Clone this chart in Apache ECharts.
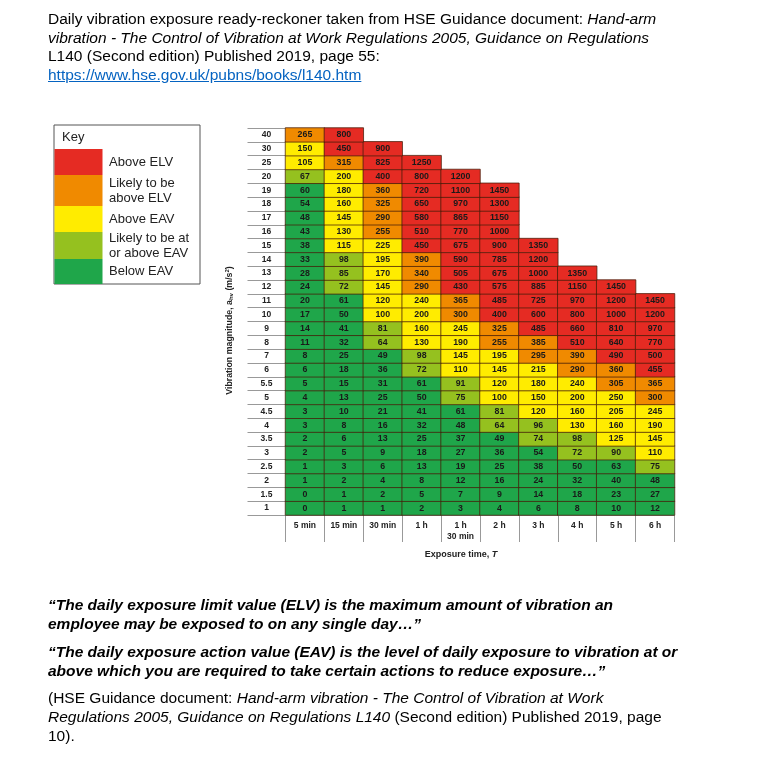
<!DOCTYPE html>
<html><head><meta charset="utf-8">
<script src="https://cdn.jsdelivr.net/npm/echarts@6/dist/echarts.min.js"></script>
<style>
html,body{margin:0;padding:0;background:#fff;}
#chart{position:absolute;left:0;top:0;width:772px;height:758px;}
.txt{position:absolute;left:48px;font-family:"Liberation Sans",Arial,sans-serif;font-size:15.5px;line-height:18.5px;color:#000;white-space:nowrap;}
.q{font-weight:bold;font-style:italic;line-height:19px;}
.c{line-height:19px;}
a{color:#0563c1;text-decoration:underline;}
</style></head>
<body>
<div id="chart"></div>
<div class="txt" style="top:10px;">Daily vibration exposure ready-reckoner taken from HSE Guidance document: <i>Hand-arm</i><br><i>vibration - The Control of Vibration at Work Regulations 2005, Guidance on Regulations</i><br>L140 (Second edition) Published 2019, page 55:<br><a>https://www.hse.gov.uk/pubns/books/l140.htm</a></div>
<div class="txt q" style="top:595px;">“The daily exposure limit value (ELV) is the maximum amount of vibration an<br>employee may be exposed to on any single day…”</div>
<div class="txt q" style="top:642px;">“The daily exposure action value (EAV) is the level of daily exposure to vibration at or<br>above which you are required to take certain actions to reduce exposure…”</div>
<div class="txt c" style="top:688px;">(HSE Guidance document: <i>Hand-arm vibration - The Control of Vibration at Work</i><br><i>Regulations 2005, Guidance on Regulations L140</i> (Second edition) Published 2019, page<br>10).</div>
<script>
// Vibration magnitude rows (bottom to top)
const magnitudes = ['1','1.5','2','2.5','3','3.5','4','4.5','5','5.5','6','7','8','9','10','11','12','13','14','15','16','17','18','19','20','25','30','40'];
// Exposure time columns
const exposureTimes = ['5 min','15 min','30 min','1 h','1 h\n30 min','2 h','3 h','4 h','5 h','6 h'];
// Exposure points per row (same order as magnitudes)
const points = [
  [0,1,1,2,3,4,6,8,10,12],
  [0,1,2,5,7,9,14,18,23,27],
  [1,2,4,8,12,16,24,32,40,48],
  [1,3,6,13,19,25,38,50,63,75],
  [2,5,9,18,27,36,54,72,90,110],
  [2,6,13,25,37,49,74,98,125,145],
  [3,8,16,32,48,64,96,130,160,190],
  [3,10,21,41,61,81,120,160,205,245],
  [4,13,25,50,75,100,150,200,250,300],
  [5,15,31,61,91,120,180,240,305,365],
  [6,18,36,72,110,145,215,290,360,455],
  [8,25,49,98,145,195,295,390,490,500],
  [11,32,64,130,190,255,385,510,640,770],
  [14,41,81,160,245,325,485,660,810,970],
  [17,50,100,200,300,400,600,800,1000,1200],
  [20,61,120,240,365,485,725,970,1200,1450],
  [24,72,145,290,430,575,885,1150,1450],
  [28,85,170,340,505,675,1000,1350],
  [33,98,195,390,590,785,1200],
  [38,115,225,450,675,900,1350],
  [43,130,255,510,770,1000],
  [48,145,290,580,865,1150],
  [54,160,325,650,970,1300],
  [60,180,360,720,1100,1450],
  [67,200,400,800,1200],
  [105,315,825,1250],
  [150,450,900],
  [265,800]
];
// Zone per cell: G below EAV, L likely at/above EAV, Y above EAV, O likely above ELV, R above ELV
const zones = [
  'GGGGGGGGGG',
  'GGGGGGGGGG',
  'GGGGGGGGGG',
  'GGGGGGGGGL',
  'GGGGGGGLLY',
  'GGGGGGLLYY',
  'GGGGGLLYYY',
  'GGGGGLYYYY',
  'GGGGLYYYYO',
  'GGGGLYYYOO',
  'GGGLYYYOOR',
  'GGGLYYOORR',
  'GGLYYOORRR',
  'GGLYYORRRR',
  'GGYYORRRRR',
  'GGYYORRRRR',
  'GLYORRRRR',
  'GLYORRRR',
  'GLYORRR',
  'GYYRRRR',
  'GYORRR',
  'GYORRR',
  'GYORRR',
  'GYORRR',
  'LYRRR',
  'YORR',
  'YRR',
  'OR'
];
const zoneCodes = ['R','O','Y','L','G'];
const zoneNames = ['Above ELV','Likely to be\nabove ELV','Above EAV','Likely to be at\nor above EAV','Below EAV'];
const zoneColors = ['#e52b23','#f08a00','#ffec00','#95c11f','#1fa64a'];

const data = [];
points.forEach((row, y) => {
  row.forEach((v, x) => {
    data.push([x, y, v, zoneCodes.indexOf(zones[y][x])]);
  });
});

const FONT = '"Liberation Sans", Arial, sans-serif';
const gridL = 285.5, gridT = 128, gridW = 389, gridH = 387;

// Key (legend) graphics
const keyX = 54, keyY = 125, keyW = 146;
const keyBounds = [149, 175, 206, 232, 259, 284];
const keyEls = [
  {type:'rect', shape:{x:keyX, y:keyY, width:keyW, height:keyBounds[5]-keyY}, style:{fill:'#fff', stroke:'#555', lineWidth:1}},
  {type:'text', x:keyX+8, y:keyY+6, style:{text:'Key', font:'13px '+FONT, fill:'#222'}}
];
zoneNames.forEach((n, i) => {
  const y0 = keyBounds[i], y1 = keyBounds[i+1];
  keyEls.push({type:'rect', shape:{x:keyX+0.5, y:y0, width:48, height:y1-y0}, style:{fill:zoneColors[i]}});
  keyEls.push({type:'text', x:keyX+55, y:(y0+y1)/2, style:{text:n, font:'13px '+FONT, fill:'#222', verticalAlign:'middle', lineHeight:15}});
});

const chart = echarts.init(document.getElementById('chart'), null, {renderer:'canvas'});
chart.setOption({
  animation:false,
  backgroundColor:'transparent',
  grid:{left:gridL, top:gridT, width:gridW, height:gridH},
  xAxis:{
    type:'category', data:exposureTimes, position:'bottom',
    axisLine:{show:true, lineStyle:{color:'#999', width:1}},
    axisTick:{show:true, length:27, lineStyle:{color:'#999', width:1}},
    axisLabel:{margin:5, fontSize:8.5, fontWeight:'bold', fontFamily:FONT, color:'#222', lineHeight:11, verticalAlign:'top'},
    splitLine:{show:false},
    name:'Exposure time, {i|T}', nameLocation:'middle', nameGap:35,
    nameTextStyle:{fontSize:9, fontWeight:'bold', fontFamily:FONT, color:'#222', padding:[0,38,0,0],
      rich:{i:{fontSize:9, fontWeight:'bold', fontStyle:'italic', fontFamily:FONT, color:'#222'}}}
  },
  yAxis:{
    type:'category', data:magnitudes,
    axisLine:{show:false},
    axisTick:{show:true, length:38, lineStyle:{color:'#999', width:1}},
    axisLabel:{margin:19, align:'center', fontSize:8.5, fontWeight:'bold', fontFamily:FONT, color:'#222'},
    splitLine:{show:false},
    name:'Vibration magnitude, a{s|hv} (m/s{p|2})', nameLocation:'middle', nameGap:51, nameRotate:90,
    nameTextStyle:{fontSize:8.8, fontWeight:'bold', fontFamily:FONT, color:'#222', padding:[0,18,0,0],
      rich:{s:{fontSize:6, fontWeight:'bold', fontFamily:FONT, color:'#222', padding:[4,0,0,0]},
            p:{fontSize:6, fontWeight:'bold', fontFamily:FONT, color:'#222', padding:[0,0,4,0]}}}
  },
  visualMap:{
    type:'piecewise', show:false, dimension:3,
    pieces: zoneColors.map((c, i) => ({value:i, color:c, label:zoneNames[i]}))
  },
  series:[{
    type:'heatmap', data:data,
    itemStyle:{borderColor:'rgba(70,30,10,0.75)', borderWidth:1},
    label:{show:true, formatter:p => p.value[2], fontSize:8.8, fontWeight:'bold', fontFamily:FONT, color:'#1a1a1a'},
    emphasis:{disabled:true}
  }],
  graphic: keyEls
});
</script>
</body></html>
